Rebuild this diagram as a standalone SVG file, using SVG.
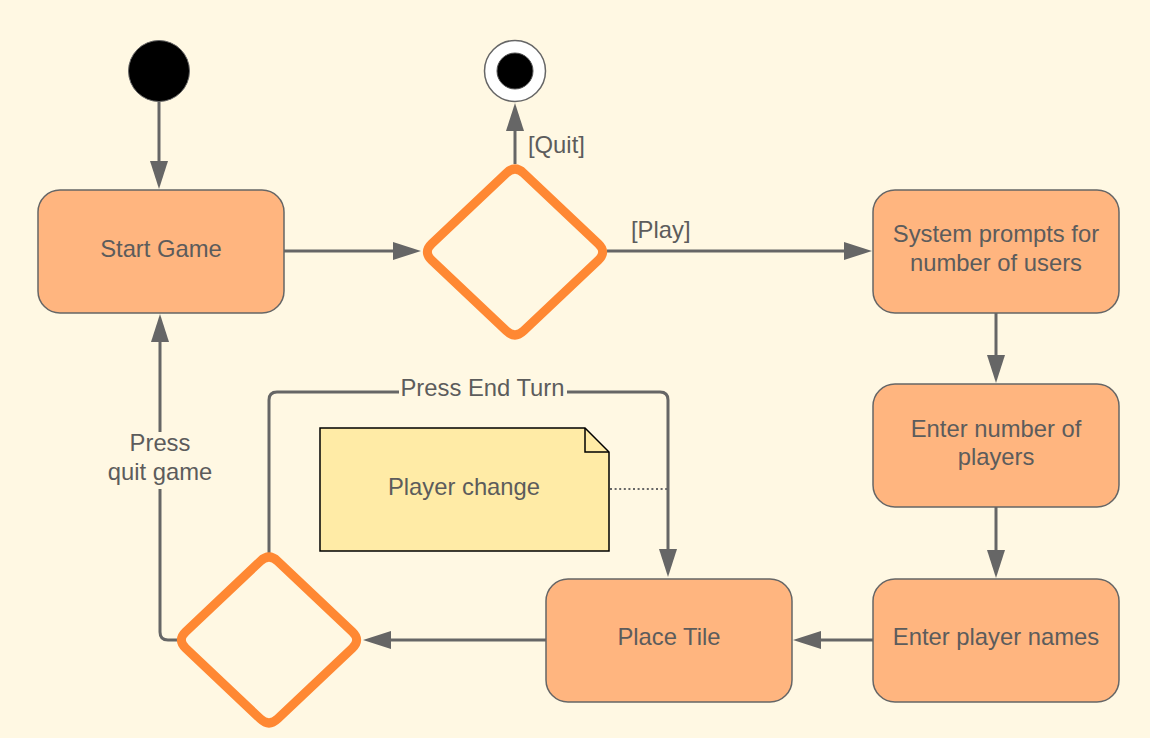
<svg xmlns="http://www.w3.org/2000/svg" width="1150" height="738" viewBox="0 0 1150 738">
<style>
text{font-family:"Liberation Sans",Arial,sans-serif;font-size:23.8px;fill:#5c5c5c}
.c{text-anchor:middle}
.box{fill:#FFB57F;stroke:#666;stroke-width:1.5}
.dia{fill:none;stroke:#FF8833;stroke-width:9;stroke-linejoin:round}
.ln{fill:none;stroke:#666;stroke-width:3}
.bg{fill:#FFF8E3}
</style>
<defs>
<marker id="ah" markerUnits="userSpaceOnUse" markerWidth="28" markerHeight="18" refX="18" refY="9" orient="auto">
<path d="M0,0 L28,9 L0,18 Z" fill="#666"/>
</marker>
</defs>
<rect width="1150" height="738" class="bg"/>

<g id="connectors">
<path class="ln" d="M159,102 V179" marker-end="url(#ah)"/>
<path class="ln" d="M284,251 H411" marker-end="url(#ah)"/>
<path class="ln" d="M515,164 V113" marker-end="url(#ah)"/>
<path class="ln" d="M607,251 H862" marker-end="url(#ah)"/>
<path class="ln" d="M996,313 V373" marker-end="url(#ah)"/>
<path class="ln" d="M996,507 V568" marker-end="url(#ah)"/>
<path class="ln" d="M873,640 H803" marker-end="url(#ah)"/>
<path class="ln" d="M546,640 H373" marker-end="url(#ah)"/>
<path class="ln" d="M179,640 H168 Q160,640 160,632 V324" marker-end="url(#ah)"/>
<path class="ln" d="M269,553 V400 Q269,392 277,392 H660 Q668,392 668,400 V567" marker-end="url(#ah)"/>
<path d="M610,489 H667" fill="none" stroke="#666" stroke-width="2.2" stroke-dasharray="2 2.6"/>
<rect x="102" y="432" width="116" height="57" class="bg"/>
<rect x="399" y="378" width="168" height="26" class="bg"/>
<text x="528" y="153">[Quit]</text>
<text x="631" y="238">[Play]</text>
<text class="c" x="160" y="451">Press</text>
<text class="c" x="160" y="480">quit game</text>
<text class="c" x="482.5" y="396">Press End Turn</text>
</g>

<g id="start">
<circle cx="159" cy="71" r="30.5" fill="#000" stroke="#666" stroke-width="1"/>
</g>
<g id="end">
<circle cx="515" cy="71" r="30.5" fill="#fff" stroke="#666" stroke-width="1.5"/>
<circle cx="515" cy="71" r="18" fill="#000" stroke="#555" stroke-width="1"/>
</g>
<g id="start-game">
<rect class="box" x="38" y="190" width="246" height="123" rx="22"/>
<text class="c" x="161" y="257">Start Game</text>
</g>
<g id="decision-1">
<path class="dia" d="M506.3,173.2 Q515,165 523.7,173.2 L598.3,243.8 Q607,252 598.3,260.2 L523.7,330.8 Q515,339 506.3,330.8 L431.7,260.2 Q423,252 431.7,243.8 Z"/>
</g>
<g id="system-prompts">
<rect class="box" x="873" y="190" width="246" height="123" rx="22"/>
<text class="c" x="996" y="242">System prompts for</text>
<text class="c" x="996" y="270.5">number of users</text>
</g>
<g id="enter-number">
<rect class="box" x="873" y="384" width="246" height="123" rx="22"/>
<text class="c" x="996" y="436.5">Enter number of</text>
<text class="c" x="996" y="465">players</text>
</g>
<g id="enter-names">
<rect class="box" x="873" y="579" width="246" height="123" rx="22"/>
<text class="c" x="996" y="645">Enter player names</text>
</g>
<g id="place-tile">
<rect class="box" x="546" y="579" width="246" height="123" rx="22"/>
<text class="c" x="669" y="645">Place Tile</text>
</g>
<g id="decision-2">
<path class="dia" d="M260.3,561.2 Q269,553 277.7,561.2 L352.3,631.8 Q361,640 352.3,648.2 L277.7,718.8 Q269,727 260.3,718.8 L185.7,648.2 Q177,640 185.7,631.8 Z"/>
</g>
<g id="note">
<path d="M320,428 H585 L609,452 V551 H320 Z" fill="#FFEBA6" stroke="#000" stroke-width="1.5"/>
<path d="M585,428 V452 H609" fill="none" stroke="#000" stroke-width="1.5"/>
<text class="c" x="464" y="495">Player change</text>
</g>
</svg>
